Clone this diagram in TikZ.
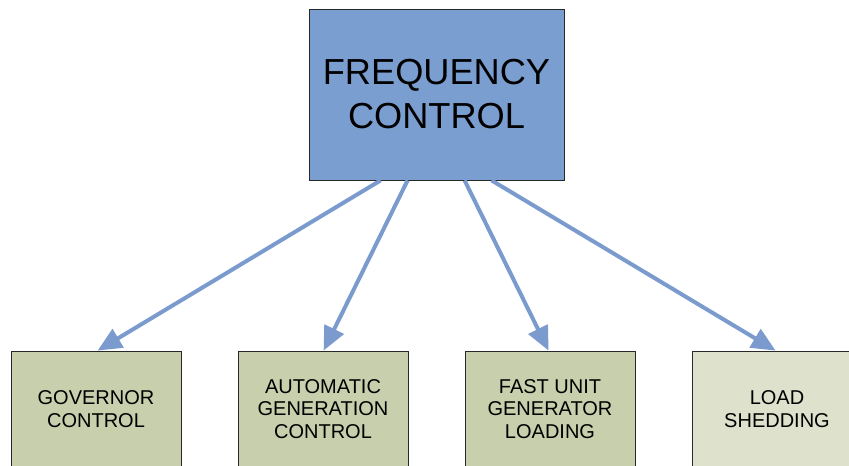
\documentclass[tikz,border=0pt]{standalone}
\usepackage{fontspec}
\setmainfont{Liberation Sans}
\usetikzlibrary{arrows.meta,calc}
\definecolor{topfill}{RGB}{123,158,208}
\definecolor{subfill}{RGB}{200,207,172}
\definecolor{subfilllight}{RGB}{222,225,203}
\definecolor{arrowblue}{RGB}{123,155,207}
\definecolor{edge}{RGB}{40,40,40}
\tikzset{
  mainbox/.style={draw=edge, line width=0.8pt, fill=topfill, minimum width=255pt,
    minimum height=171pt, align=center, inner sep=0pt,
    font=\fontsize{36.2}{44}\selectfont},
  subbox/.style={draw=edge, line width=0.8pt, fill=subfill, minimum width=170pt,
    minimum height=116pt, align=center, inner sep=0pt,
    font=\fontsize{20}{22.5}\selectfont},
  link/.style={draw=arrowblue, line width=4pt,
    -{Triangle[length=24pt,width=21pt]}}
}
\begin{document}
\begin{tikzpicture}[x=1pt,y=-1pt]
  \useasboundingbox (0,0) rectangle (849,466);
  \clip (0,0) rectangle (849,466);
  \fill[white] (0,0) rectangle (849,466);

  % root and the four control methods
  \node[mainbox] (top) at (436.5,94.5) {FREQUENCY\\CONTROL};
  \node[subbox] (gov) at (96,409) {GOVERNOR\\CONTROL};
  \node[subbox] (agc) at (323,409) {AUTOMATIC\\GENERATION\\CONTROL};
  \node[subbox] (fast) at (550,409) {FAST UNIT\\GENERATOR\\LOADING};
  \node[subbox, fill=subfilllight] (load) at (777,409) {LOAD\\SHEDDING};

  % connectors from the root
  \draw[link] ($(top.south west)+(72,0)$) -- ($(gov.north west)+(87,0)$);
  \draw[link] ($(top.south west)+(99,0)$) -- ($(agc.north west)+(86,0)$);
  \draw[link] ($(top.south west)+(156,0)$) -- ($(fast.north west)+(84,0)$);
  \draw[link] ($(top.south west)+(183,0)$) -- ($(load.north west)+(84,0)$);
\end{tikzpicture}
\end{document}
